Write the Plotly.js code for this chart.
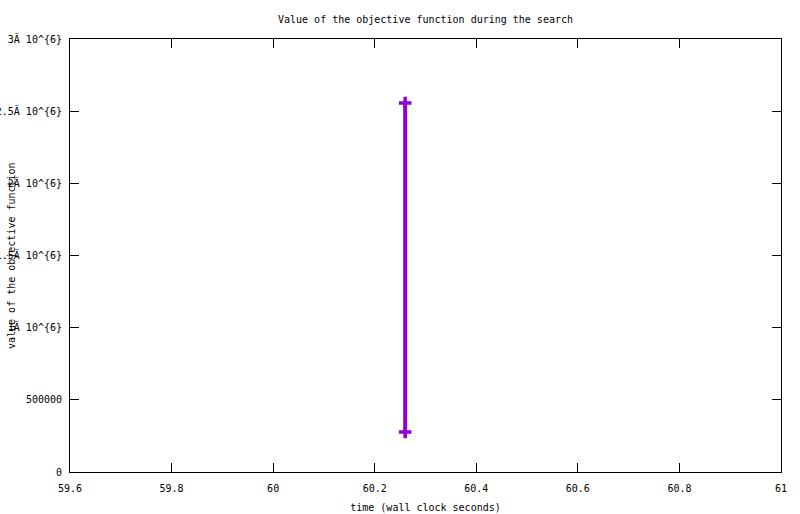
<!DOCTYPE html>
<html><head><meta charset="utf-8">
<script src="https://cdn.plot.ly/plotly-3.0.1.min.js"></script>
<style>html,body{margin:0;padding:0;background:#fff}#chart{width:800px;height:514px}</style>
</head><body><div id="chart"></div>
<script>
const times = [60.26, 60.26];
const objectiveValues = [2556000, 277000];
const xTickVals = [59.6, 59.8, 60, 60.2, 60.4, 60.6, 60.8, 61];
const xTickText = ["59.6", "59.8", "60", "60.2", "60.4", "60.6", "60.8", "61"];
const yTickVals = [0, 500000, 1000000, 1500000, 2000000, 2500000, 3000000];
const yTickText = ["0", "500000", "1Ă 10^{6}", "1.5Ă 10^{6}", "2Ă 10^{6}", "2.5Ă 10^{6}", "3Ă 10^{6}"];

const font = {family: "DejaVu Sans Mono, monospace", size: 10, color: "#000"};
const trace = {
  x: times, y: objectiveValues, type: "scatter", mode: "lines+markers",
  line: {color: "#9400d3", width: 4},
  marker: {symbol: "cross-thin", size: 9, line: {color: "#9400d3", width: 3.5}, color: "#9400d3"},
  showlegend: false, hoverinfo: "skip"
};
const axisCommon = {
  showline: true, linecolor: "#000", linewidth: 1, mirror: "allticks",
  ticks: "inside", ticklen: 9, tickcolor: "#000", tickwidth: 1,
  showgrid: false, zeroline: false, tickfont: font, automargin: false, fixedrange: true
};
const layout = {
  width: 800, height: 514,
  margin: {l: 70, r: 19, t: 39, b: 42},
  paper_bgcolor: "#fff", plot_bgcolor: "#fff",
  font: font,
  title: {text: "Value of the objective function during the search", font: font, x: 0.5, xref: "paper", y: 1 - 19/514, yanchor: "middle"},
  xaxis: Object.assign({}, axisCommon, {range: [59.6, 61], tickmode: "array", tickvals: xTickVals, ticktext: xTickText,
    ticklabelstandoff: 7, title: {text: "time (wall clock seconds)", font: font, standoff: 10}}),
  yaxis: Object.assign({}, axisCommon, {range: [0, 3000000], tickmode: "array", tickvals: yTickVals, ticktext: yTickText, ticklabelstandoff: 5}),
  annotations: [{text: "value of the objective function", textangle: -90, xref: "paper", yref: "paper",
    x: -70/711, xanchor: "left", y: 0.5, yanchor: "middle", showarrow: false, font: font, xshift: 4}]
};
Plotly.newPlot("chart", [trace], layout, {staticPlot: true, displayModeBar: false});
</script></body></html>
